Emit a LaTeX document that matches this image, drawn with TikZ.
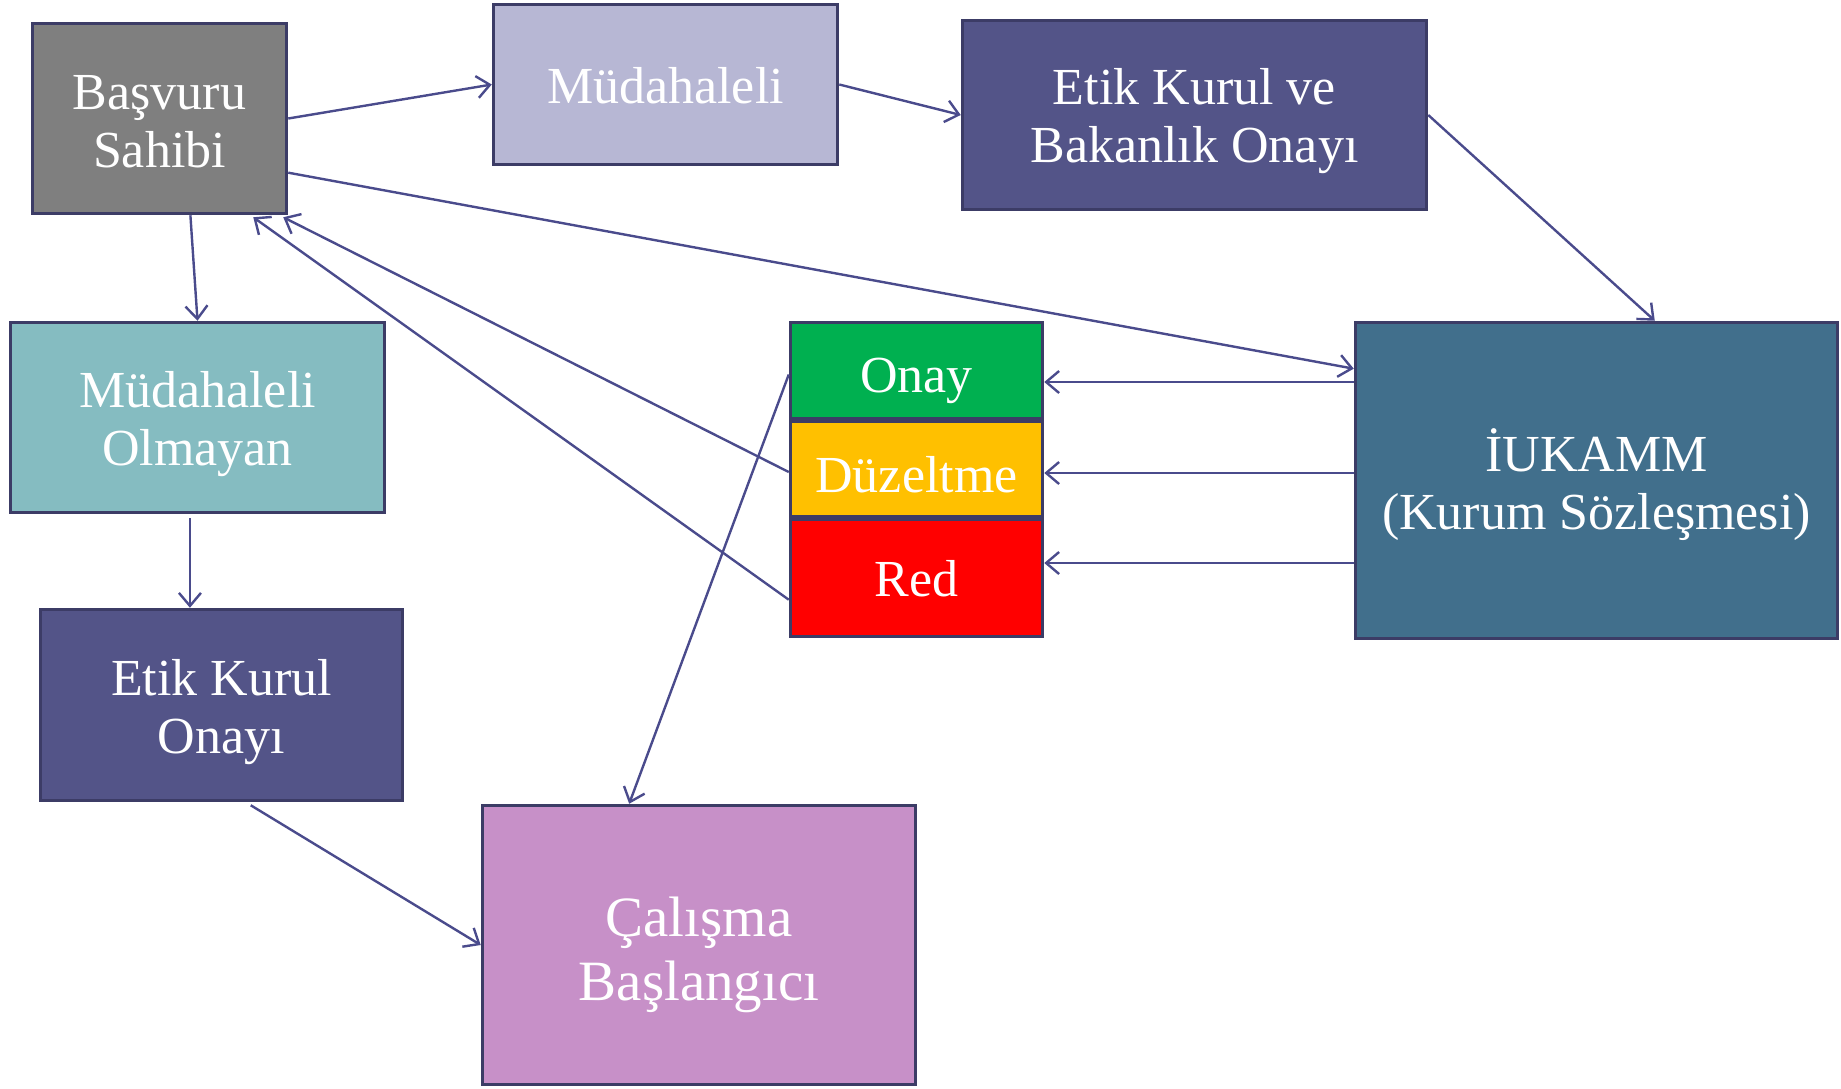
\documentclass[tikz,border=0pt]{standalone}
\usepackage{fontspec}
\setmainfont{Liberation Serif}
\usetikzlibrary{arrows.meta,calc}
\definecolor{bord}{HTML}{3C3C66}
\definecolor{arrc}{HTML}{4A4B8C}
\definecolor{cgray}{HTML}{7F7F7F}
\definecolor{clav}{HTML}{B7B7D4}
\definecolor{cslate}{HTML}{535488}
\definecolor{cteal}{HTML}{85BCC1}
\definecolor{corch}{HTML}{C790C8}
\definecolor{cgreen}{HTML}{00B050}
\definecolor{camber}{HTML}{FFC000}
\definecolor{cred}{HTML}{FF0000}
\definecolor{cblue}{HTML}{416F8C}
\tikzset{
  box/.style={draw=bord, line width=3.5pt, rectangle, inner sep=0pt},
  lbl/.style={text=white, align=center, font=\fontsize{52}{58}\selectfont, inner sep=0pt},
  arr/.style={draw=arrc, line width=2.4pt, -{Straight Barb[length=13pt,width=22pt,line width=2.4pt]}}
}
\begin{document}
\begin{tikzpicture}[x=1pt,y=-1pt]
\useasboundingbox (0,0) rectangle (1841,1088);
\node[box, fill=cgray, minimum width=254pt, minimum height=190pt,
  label={[lbl, yshift=-3pt]center:Başvuru\\Sahibi}] (bas) at (159.5,118.5) {};
\node[box, fill=clav, minimum width=344pt, minimum height=160pt,
  label={[lbl, yshift=-1pt]center:Müdahaleli}] (mud) at (665.5,84.5) {};
\node[box, fill=cslate, minimum width=464pt, minimum height=189pt,
  label={[lbl, yshift=-6pt]center:Etik Kurul ve\\Bakanlık Onayı}] (etik) at (1194.5,115) {};
\node[box, fill=cteal, minimum width=374pt, minimum height=190pt,
  label={[lbl, yshift=-7pt]center:Müdahaleli\\Olmayan}] (mo) at (197.5,417.5) {};
\node[box, fill=cslate, minimum width=362pt, minimum height=191pt,
  label={[lbl, yshift=-7pt]center:Etik Kurul\\Onayı}] (eko) at (221.5,705) {};
\node[box, fill=corch, minimum width=433pt, minimum height=279pt,
  label={[lbl, yshift=-10pt, font=\fontsize{57}{64}\selectfont]center:Çalışma\\Başlangıcı}] (cal) at (699,945) {};
\node[box, fill=cgreen, minimum width=252pt, minimum height=96pt,
  label={[lbl, yshift=-10pt]center:Onay}] (onay) at (916.5,370.5) {};
\node[box, fill=camber, minimum width=252pt, minimum height=95pt,
  label={[lbl, yshift=-6pt]center:Düzeltme}] (duz) at (916.5,469) {};
\node[box, fill=cred, minimum width=252pt, minimum height=117pt,
  label={[lbl, yshift=-1pt]center:Red}] (red) at (916.5,578) {};
\node[box, fill=cblue, minimum width=482pt, minimum height=316pt,
  label={[lbl, yshift=-4pt]center:İUKAMM\\(Kurum Sözleşmesi)}] (iuk) at (1596.5,480.5) {};

\coordinate (moS) at ($(mo.south west)!0.48!(mo.south east)+(0,4)$);
\coordinate (ekoS) at ($(eko.south west)!0.58!(eko.south east)+(0,3)$);
\coordinate (basS) at ($(bas.south west)!0.62!(bas.south east)$);
\coordinate (basE) at ($(bas.north east)!0.78!(bas.south east)$);
\coordinate (basA) at ($(bas.south east)+(-5,2)$);
\coordinate (basB) at ($(bas.south east)+(-35,2)$);
\coordinate (iukN) at ($(iuk.north west)!0.62!(iuk.north east)$);
\coordinate (iukW) at ($(iuk.north west)!0.15!(iuk.south west)$);
\coordinate (redW) at ($(red.north west)!0.68!(red.south west)$);
\coordinate (calN) at ($(cal.north west)!0.34!(cal.north east)$);

\draw[arr] (bas.east) -- (mud.west);
\draw[arr] (mud.east) -- (etik.west);
\draw[arr] (etik.east) -- (iukN);
\draw[arr] (basE) -- (iukW);
\draw[arr] (iuk.west |- 0,382) -- (onay.east |- 0,382);
\draw[arr] (iuk.west |- 0,473) -- (duz.east |- 0,473);
\draw[arr] (iuk.west |- 0,563) -- (red.east |- 0,563);
\draw[arr] ($(duz.west)+(0,3)$) -- (basA);
\draw[arr] (redW) -- (basB);
\draw[arr] ($(onay.west)+(0,4)$) -- (calN);
\draw[arr] (basS) -- (mo.north);
\draw[arr] (moS) -- (moS |- eko.north);
\draw[arr] (ekoS) -- (cal.west);
\end{tikzpicture}
\end{document}
